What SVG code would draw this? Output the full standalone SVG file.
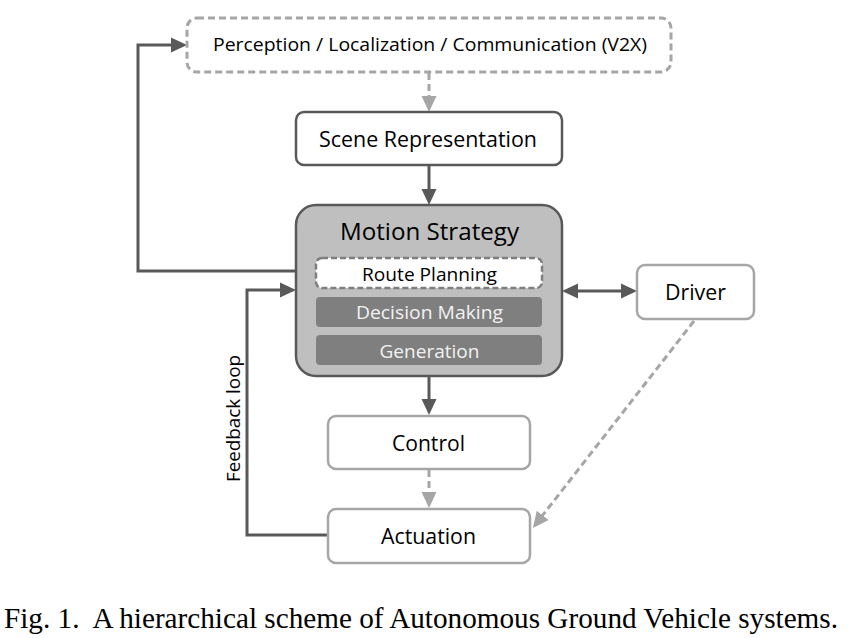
<svg xmlns="http://www.w3.org/2000/svg" width="850" height="638" viewBox="0 0 850 638">
<style>
  .lbl { font-family: "Open Sans", "Noto Sans", "Liberation Sans", sans-serif; fill: #000; text-anchor: middle; }
  .sub { font-family: "Open Sans", "Noto Sans", "Liberation Sans", sans-serif; fill: #f2f2f2; text-anchor: middle; }
  .dk { fill: none; stroke: #595959; stroke-width: 3; }
  .lt { fill: none; stroke: #a6a6a6; stroke-width: 3; stroke-dasharray: 7 4; }
  .boxd { fill: #fff; stroke: #595959; stroke-width: 2.5; }
  .boxl { fill: #fff; stroke: #a6a6a6; stroke-width: 2.5; }
</style>
<defs>
  <marker id="ad" markerUnits="userSpaceOnUse" markerWidth="16" markerHeight="16" viewBox="0 0 16 16" refX="6" refY="8" orient="auto-start-reverse">
    <path d="M0,0.5 L16,8 L0,15.5 Z" fill="#595959"/>
  </marker>
  <marker id="al" markerUnits="userSpaceOnUse" markerWidth="16" markerHeight="16" viewBox="0 0 16 16" refX="6" refY="8" orient="auto">
    <path d="M0,0.5 L16,8 L0,15.5 Z" fill="#a6a6a6"/>
  </marker>
</defs>
<rect width="850" height="638" fill="#fff"/>

<g id="connectors">
  <path class="dk" d="M296,271 H138 V45 H177" marker-end="url(#ad)"/>
  <path class="lt" d="M429,73 V102" marker-end="url(#al)"/>
  <path class="dk" d="M429,165 V195" marker-end="url(#ad)"/>
  <path class="dk" d="M572,291 H627" marker-start="url(#ad)" marker-end="url(#ad)"/>
  <path class="dk" d="M429,376 V405" marker-end="url(#ad)"/>
  <path class="lt" d="M429,470 V498" marker-end="url(#al)"/>
  <path class="dk" d="M328,535 H247 V290 H286" marker-end="url(#ad)"/>
  <path class="lt" d="M694,321 L539,520" marker-end="url(#al)"/>
</g>

<g id="perception">
  <rect x="187" y="18" width="484" height="54" rx="10" fill="#fff" stroke="#a6a6a6" stroke-width="3" stroke-dasharray="7 4"/>
  <text class="lbl" x="430" y="51" font-size="19" textLength="434" lengthAdjust="spacingAndGlyphs">Perception / Localization / Communication (V2X)</text>
</g>

<g id="scene">
  <rect class="boxd" x="296" y="112" width="266" height="53" rx="8"/>
  <text class="lbl" x="428" y="147" font-size="21" textLength="218" lengthAdjust="spacingAndGlyphs">Scene Representation</text>
</g>

<g id="motion">
  <rect x="296" y="205" width="266" height="171" rx="20" fill="#bfbfbf" stroke="#595959" stroke-width="2.5"/>
  <text class="lbl" x="429.5" y="240" font-size="24" textLength="179" lengthAdjust="spacingAndGlyphs">Motion Strategy</text>
  <g id="route">
    <rect x="316" y="258" width="226" height="30" rx="6" fill="#fff" stroke="#7f7f7f" stroke-width="2.5" stroke-dasharray="6 3"/>
    <text class="lbl" x="429.5" y="281" font-size="19" textLength="135" lengthAdjust="spacingAndGlyphs">Route Planning</text>
  </g>
  <g id="decision">
    <rect x="316" y="297" width="226" height="30" rx="4" fill="#7f7f7f"/>
    <text class="sub" x="429.5" y="319" font-size="19" textLength="147" lengthAdjust="spacingAndGlyphs">Decision Making</text>
  </g>
  <g id="generation">
    <rect x="316" y="335" width="226" height="30" rx="4" fill="#7f7f7f"/>
    <text class="sub" x="429.5" y="358" font-size="19" textLength="100" lengthAdjust="spacingAndGlyphs">Generation</text>
  </g>
</g>

<g id="driver">
  <rect class="boxl" x="637" y="265" width="117" height="54" rx="8"/>
  <text class="lbl" x="695.5" y="300" font-size="22" textLength="61" lengthAdjust="spacingAndGlyphs">Driver</text>
</g>

<g id="control">
  <rect class="boxl" x="328" y="416" width="202" height="53" rx="8"/>
  <text class="lbl" x="428.5" y="451" font-size="22" textLength="73" lengthAdjust="spacingAndGlyphs">Control</text>
</g>

<g id="actuation">
  <rect class="boxl" x="328" y="509" width="202" height="54" rx="8"/>
  <text class="lbl" x="428.5" y="544" font-size="22" textLength="95" lengthAdjust="spacingAndGlyphs">Actuation</text>
</g>

<g id="feedback-label">
  <text class="lbl" transform="translate(240,418.5) rotate(-90)" x="0" y="0" font-size="19" textLength="127" lengthAdjust="spacingAndGlyphs">Feedback loop</text>
</g>

<text x="4" y="628" xml:space="preserve" font-family="'Liberation Serif', 'Times New Roman', serif" font-size="29" fill="#000" textLength="834" lengthAdjust="spacingAndGlyphs">Fig. 1.  A hierarchical scheme of Autonomous Ground Vehicle systems.</text>
</svg>
